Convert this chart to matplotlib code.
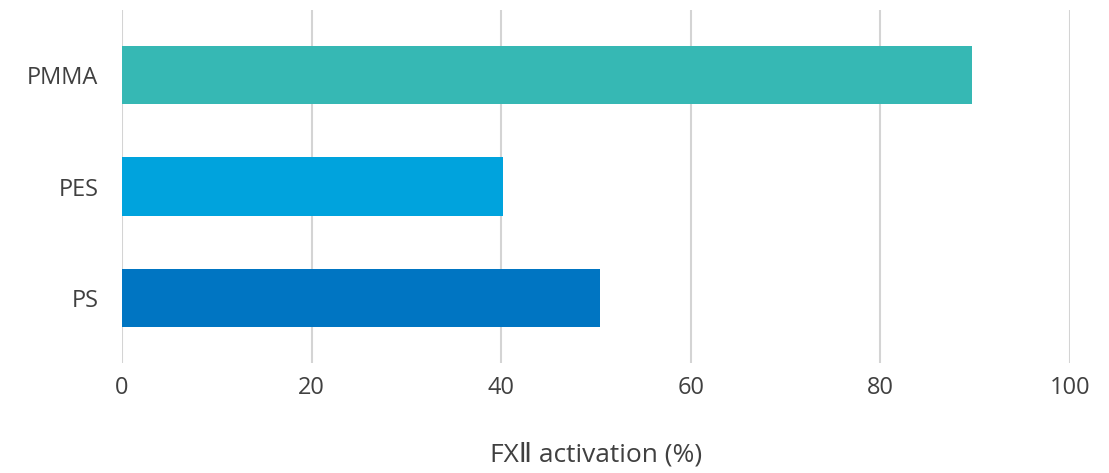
import matplotlib.pyplot as plt
import numpy as np

plt.rcParams['font.family'] = ['Open Sans', 'DejaVu Sans', 'Noto Sans CJK JP']

labels = ['PS', 'PES', 'PMMA']
values = [50.4, 40.2, 89.7]
colors = ['#0075C2', '#00A3DD', '#36B8B4']
xticks = [0, 20, 40, 60, 80, 100]

fig = plt.figure(figsize=(11.09, 4.73), dpi=100)
ax = fig.add_axes([122/1109, 110/473, 948/1109, 353/473])

y = np.arange(len(labels))
ax.barh(y, values, height=0.52, color=colors, zorder=3)

ax.set_xlim(0, 100)
ax.set_ylim(-0.58, 2.58)
ax.set_xticks(xticks)
ax.set_yticks(y)
ax.set_yticklabels(labels)
ax.grid(axis='x', color='#d4d4d4', linewidth=1.5, zorder=0)
for s in ax.spines.values():
    s.set_visible(False)
ax.tick_params(length=0, labelsize=17, colors='#404040', pad=9)
ax.tick_params(axis='y', pad=17)
ax.set_xlabel('FXⅡ activation (%)', fontsize=19, color='#404040', labelpad=31)

fig.savefig('out.png', dpi=100)
